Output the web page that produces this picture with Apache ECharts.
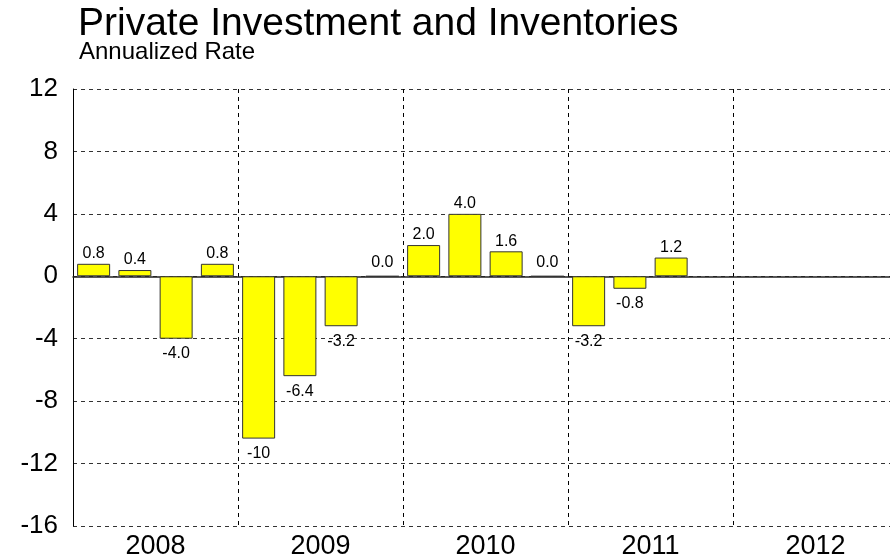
<!DOCTYPE html>
<html>
<head>
<meta charset="utf-8">
<script src="https://cdn.jsdelivr.net/npm/echarts@6/dist/echarts.min.js"></script>
<style>
  html, body { margin: 0; padding: 0; background: #fff; overflow: hidden; }
  #chart { width: 900px; height: 560px; }
</style>
</head>
<body>
<div id="chart"></div>
<script>
// ---- data ----
var quarters = ['2008Q1','2008Q2','2008Q3','2008Q4',
                '2009Q1','2009Q2','2009Q3','2009Q4',
                '2010Q1','2010Q2','2010Q3','2010Q4',
                '2011Q1','2011Q2','2011Q3','2011Q4',
                '2012Q1','2012Q2','2012Q3','2012Q4'];
var values = [0.8, 0.4, -4.0, 0.8,
              -10.4, -6.4, -3.2, 0.0,
              2.0, 4.0, 1.6, 0.0,
              -3.2, -0.8, 1.2, null,
              null, null, null, null];
var years = ['2008', '2009', '2010', '2011', '2012'];
var yTicks = { min: -16, max: 12, interval: 4 };

var FONT = "'Liberation Sans', Arial, Helvetica, sans-serif";

function fmt(v) {
  if (v === null || v === undefined) return '';
  return Math.abs(v) >= 10 ? v.toFixed(0) : v.toFixed(1);
}

var barData = values.map(function (v) {
  if (v === null) return { value: null };
  var neg = v < 0;
  return {
    value: v,
    label: {
      position: neg ? 'bottom' : 'top',
      distance: neg ? 7 : (v === 0 ? 5 : 2)
    }
  };
});

var chart = echarts.init(document.getElementById('chart'), null, { renderer: 'canvas' });
chart.setOption({
  animation: false,
  backgroundColor: '#ffffff',
  title: [
    {
      text: 'Private Investment and Inventories',
      left: 78, top: 5, padding: 0,
      textStyle: { fontFamily: FONT, fontSize: 39, fontWeight: 'normal', color: '#000' }
    },
    {
      text: 'Annualized Rate',
      left: 79, top: 40, padding: 0,
      textStyle: { fontFamily: FONT, fontSize: 24, fontWeight: 'normal', color: '#000' }
    }
  ],
  grid: {
    left: 73, top: 89, width: 825, height: 438,
    show: false, containLabel: false
  },
  xAxis: [
    {
      type: 'category',
      data: quarters,
      position: 'bottom',
      axisLine: { show: true, onZero: true, lineStyle: { color: '#222', width: 1.5 } },
      axisTick: { show: false },
      axisLabel: { show: false },
      splitLine: { show: false }
    },
    {
      type: 'category',
      data: years,
      position: 'bottom',
      boundaryGap: true,
      axisLine: { show: false, onZero: false },
      axisTick: { show: false },
      axisLabel: { show: true, fontFamily: FONT, fontSize: 27, color: '#000', margin: 7 },
      splitLine: {
        show: true,
        interval: function (i) { return i > 0 && i < years.length; },
        lineStyle: { color: '#000', type: [4, 4], width: 1 }
      }
    }
  ],
  yAxis: {
    type: 'value',
    min: yTicks.min, max: yTicks.max, interval: yTicks.interval,
    axisLine: { show: true, lineStyle: { color: '#000', width: 1 } },
    axisTick: { show: false },
    axisLabel: { fontFamily: FONT, fontSize: 26, color: '#000', margin: 15 },
    splitLine: { show: true, lineStyle: { color: '#333', type: [4, 4], width: 1 } }
  },
  series: [{
    type: 'bar',
    xAxisIndex: 0,
    data: barData,
    barWidth: '80%',
    itemStyle: { color: '#ffff00', borderColor: '#333', borderWidth: 1 },
    label: {
      show: true,
      fontFamily: FONT, fontSize: 16, color: '#000',
      formatter: function (p) { return fmt(p.value); }
    },
    z: 3
  }]
});
</script>
</body>
</html>
